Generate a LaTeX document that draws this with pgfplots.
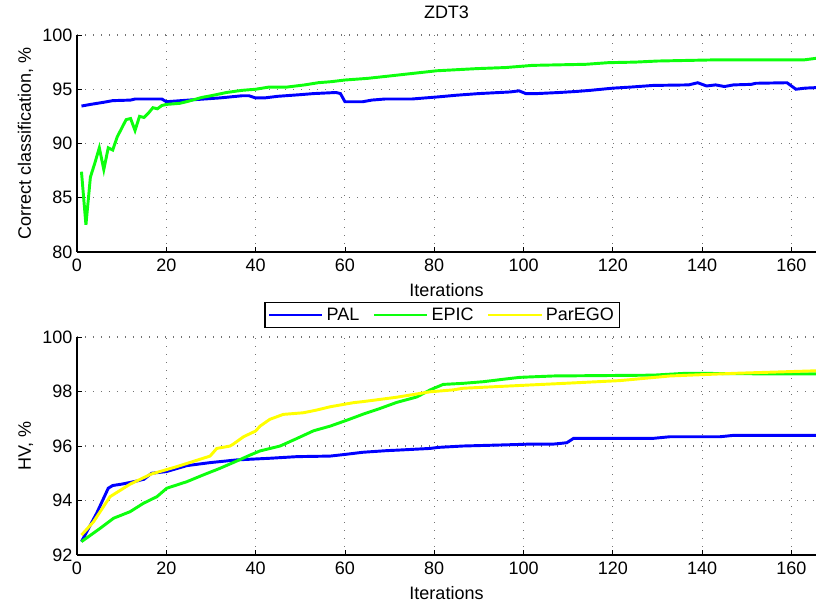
\documentclass[border=0pt]{standalone}
\usepackage{pgfplots}
\pgfplotsset{compat=1.18}
\usepackage{fontspec}
\setmainfont{Liberation Sans}
\definecolor{cpal}{rgb}{0,0,1}
\definecolor{cepic}{rgb}{0.05,1,0.05}
\definecolor{cpar}{rgb}{1,1,0}
\pgfplotsset{
  myax/.style={
    scale only axis, width=554.25pt,
    xmin=0, xmax=165.5,
    xtick={0,20,...,160},
    axis x line*=bottom, axis y line*=left,
    axis line style={-, line width=0.8pt},
    tick align=inside, major tick length=4pt,
    tick style={black, line width=0.6pt},
    grid=major,
    major grid style={black!55, line width=0.8pt, dash pattern=on 0.8pt off 5.2pt},
    /pgf/number format/assume math mode=true,
    tick label style={font=\fontsize{13.5}{15}\selectfont},
    xticklabel style={yshift=-2pt},
    label style={font=\fontsize{13.5}{15}\selectfont},
    xlabel style={yshift=-1.5pt},
    title style={font=\fontsize{13.5}{15}\selectfont, yshift=3pt},
    xlabel={Iterations},
    every axis plot/.append style={line width=2.2pt, no markers},
  }
}
\begin{document}
\begin{tikzpicture}
\useasboundingbox (-57.75pt,-37.5pt) rectangle (554.25pt,416.25pt);
\begin{axis}[myax, at={(0pt,227.25pt)}, anchor=south west,
  height=162.75pt, ymin=80, ymax=100, ytick={80,85,...,100},
  title={ZDT3}, ylabel={Correct classification, \%}]
\addplot[color=cpal] coordinates {
(1,93.45) (3,93.6) (6,93.8) (8,93.95) (12,94.0) (13,94.1) (19,94.1) (20,93.85) (25,94.0) (32,94.2) (37,94.4) (38.5,94.4) (40,94.2) (42,94.2) (45,94.35) (50,94.5) (53,94.6) (58,94.7) (59,94.6) (60,93.85) (64,93.85) (66,94.0) (69,94.1) (75,94.1) (78,94.2) (81,94.3) (85,94.45) (90,94.6) (97,94.75) (99,94.85) (100.5,94.6) (103,94.6) (108,94.7) (112,94.8) (115,94.9) (120,95.1) (124,95.2) (129,95.35) (137,95.4) (139,95.6) (141,95.3) (143,95.4) (145,95.25) (147,95.4) (151,95.45) (152,95.55) (159,95.6) (161,95.0) (163,95.1) (165.5,95.15)
};
\addplot[color=cepic] coordinates {
(1,87.4) (2,82.5) (3,86.9) (4,88.2) (5,89.6) (6,87.6) (7,89.6) (8,89.4) (9,90.6) (10,91.4) (11,92.2) (12,92.3) (13,91.2) (14,92.5) (15,92.4) (16,92.8) (17,93.3) (18,93.2) (19,93.5) (20,93.6) (23,93.7) (25,93.9) (28,94.25) (30,94.4) (33.5,94.7) (37,94.9) (40,95.0) (43,95.2) (47,95.2) (51,95.4) (54,95.6) (57,95.7) (60,95.85) (65,96.0) (69.5,96.2) (75,96.45) (80.5,96.7) (85,96.8) (89.5,96.9) (96,97.0) (102,97.2) (114,97.3) (119,97.45) (125,97.5) (130,97.6) (142,97.7) (162.7,97.7) (165.5,97.85)
};
\end{axis}
\begin{axis}[myax, at={(0pt,0pt)}, anchor=south west,
  height=163.5pt, ymin=92, ymax=100, ytick={92,94,...,100},
  ylabel={HV, \%},
  legend columns=3,
  legend style={at={(0.494,1.101)}, anchor=center, draw=black, line width=0.8pt,
    font=\fontsize{13.5}{15}\selectfont, inner sep=2pt,
    /tikz/every even column/.append style={column sep=8pt}},
  legend image code/.code={\draw[#1, line width=2.2pt] (0pt,0pt) -- (40pt,0pt);}]
\addplot[color=cpal] coordinates {
(1,92.49) (4.4,93.53) (7,94.45) (8,94.55) (10,94.6) (13,94.7) (15,94.78) (16.7,95.0) (20,95.06) (24.6,95.28) (29.8,95.39) (35.8,95.49) (43.2,95.55) (49.3,95.61) (56.7,95.63) (60.5,95.7) (64,95.77) (69.4,95.83) (72,95.85) (79,95.91) (81,95.95) (86.5,96.0) (95.5,96.04) (101.5,96.07) (106.7,96.07) (109.7,96.12) (111.2,96.28) (129,96.28) (132.8,96.34) (144,96.34) (147,96.39) (165.5,96.39)
};
\addlegendentry{PAL}
\addplot[color=cepic] coordinates {
(1,92.49) (5.2,92.98) (8.2,93.35) (11.9,93.59) (14.9,93.9) (17.9,94.14) (20.1,94.45) (24.6,94.69) (28.3,94.94) (32,95.18) (35.8,95.45) (38.8,95.67) (41,95.82) (45.5,96.0) (49.3,96.28) (53,96.56) (56.7,96.73) (60.5,96.95) (64.1,97.17) (67.9,97.38) (71.6,97.6) (76.1,97.8) (79.1,98.06) (82,98.26) (86.5,98.3) (91,98.36) (95.5,98.45) (99.2,98.52) (106.7,98.57) (129,98.6) (136.5,98.67) (151.5,98.65) (165.5,98.65)
};
\addlegendentry{EPIC}
\addplot[color=cpar] coordinates {
(1,92.73) (3.7,93.22) (7.4,94.14) (11.9,94.6) (16.6,94.97) (22.3,95.24) (29.8,95.63) (31.3,95.91) (34.3,96.0) (35,96.07) (37.3,96.34) (40,96.55) (41,96.73) (43.2,96.98) (46.2,97.16) (50.7,97.22) (53.7,97.32) (56.7,97.44) (61.9,97.59) (64.1,97.63) (71.6,97.79) (79.1,97.99) (84.3,98.06) (86.5,98.12) (94,98.18) (101.5,98.24) (106.7,98.28) (121.6,98.4) (132.8,98.57) (147.7,98.67) (165.5,98.76)
};
\addlegendentry{ParEGO}
\end{axis}
\end{tikzpicture}
\end{document}
